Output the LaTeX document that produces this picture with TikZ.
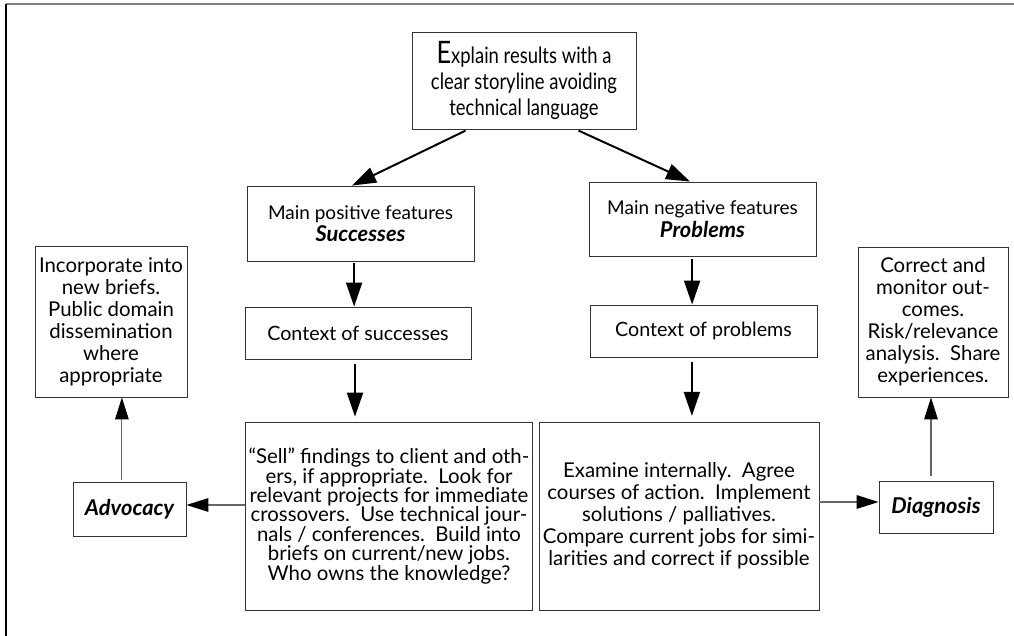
\documentclass[tikz,border=0pt]{standalone}
\usepackage{fontspec}
\setmainfont{Lato}
\newfontfamily\narrowfont[FakeStretch=0.82]{Lato}
\usetikzlibrary{arrows.meta}
\definecolor{boxline}{HTML}{333333}
\definecolor{sidearrow}{HTML}{666666}
\newcommand{\bfit}[1]{{\fontsize{15.5}{15.6}\selectfont\bfseries\itshape #1}}

\begin{document}
\begin{tikzpicture}[x=0.025cm,y=-0.025cm]
  \tikzstyle{bx}=[draw=boxline,line width=0.6pt,align=center,inner sep=2pt,font=\fontsize{13.5}{16}\selectfont]
  \tikzstyle{big}=[-{Triangle[length=6mm,width=4mm]},line width=1.4pt]
  \tikzstyle{side}=[-{Triangle[length=5.5mm,width=3.4mm,color=black]},sidearrow,line width=0.8pt]

  \useasboundingbox (0,0) rectangle (1014,636);
  \draw[line width=1pt,gray] (6,4) -- (1014,4);
  \draw[line width=1pt] (6,4) -- (6,636);

  \node[bx,minimum width=5.6cm,minimum height=2.425cm,font=\narrowfont\fontsize{16}{18.5}\selectfont] (top) at (524,80.5)
    {{\fontsize{22}{18.5}\selectfont E}xplain results with a\\clear storyline avoiding\\technical language};
  \node[bx,minimum width=5.675cm,minimum height=1.875cm] (pos) at (360.5,223.5)
    {Main positive features\\\bfit{Successes}};
  \node[bx,minimum width=5.675cm,minimum height=1.85cm] (neg) at (702.5,219)
    {Main negative features\\\bfit{Problems}};
  \node[bx,minimum width=5.65cm,minimum height=1.3cm,font=\fontsize{14}{15.6}\selectfont] (ctxs) at (358,333) {Context of successes};
  \node[bx,minimum width=5.675cm,minimum height=1.3cm,font=\fontsize{14}{15.6}\selectfont] (ctxp) at (703.5,331) {Context of problems};
  \node[bx,minimum width=7cm,minimum height=4.7cm,font=\fontsize{14.5}{13.8}\selectfont] (sell) at (389,516)
    {“Sell” findings to client and oth-\\ers, if appropriate.\ \ Look for\\relevant projects for immediate\\crossovers.\ \ Use technical jour-\\nals / conferences.\ \ Build into\\briefs on current/new jobs.\\Who owns the knowledge?};
  \node[bx,minimum width=7cm,minimum height=4.7cm,font=\fontsize{14.5}{15.6}\selectfont] (exam) at (679,516)
    {Examine internally.\ \ Agree\\courses of action.\ \ Implement\\solutions / palliatives.\\Compare current jobs for simi-\\larities and correct if possible};
  \node[bx,minimum width=2.825cm,minimum height=1.35cm] (adv) at (129.5,509) {\bfit{Advocacy}};
  \node[bx,minimum width=3.8cm,minimum height=3.775cm,font=\fontsize{14.5}{15.6}\selectfont] (inc) at (111,321.5)
    {Incorporate into\\new briefs.\\Public domain\\dissemination\\where\\appropriate};
  \node[bx,minimum width=2.85cm,minimum height=1.3cm] (diag) at (936,507) {\bfit{Diagnosis}};
  \node[bx,minimum width=3.75cm,minimum height=3.75cm,font=\fontsize{14.5}{15.6}\selectfont] (corr) at (933,322)
    {Correct and\\monitor out-\\comes.\\Risk/relevance\\analysis.\ \ Share\\experiences.};

  \draw[big,shorten <=2pt] ([xshift=-1.4cm]top.south) -- ([xshift=-.21cm]pos.north);
  \draw[big,shorten <=2pt] ([xshift=1.3cm]top.south) -- ([xshift=-.31cm]neg.north);
  \draw[big,shorten <=1pt] ([xshift=-.16cm]pos.south) -- ([xshift=-.16cm]pos.south |- ctxs.north);
  \draw[big,shorten <=3pt,shorten >=3.5pt] ([xshift=-.075cm]ctxs.south) -- ([xshift=-.075cm]ctxs.south |- sell.north);
  \draw[big,shorten <=2pt] ([xshift=-.26cm]neg.south) -- ([xshift=-.26cm]neg.south |- ctxp.north);
  \draw[big,shorten <=3pt,shorten >=4pt] ([xshift=-.29cm]ctxp.south) -- ([xshift=-.29cm]ctxp.south |- exam.north);
  \draw[side] ([yshift=.275cm]sell.west) -- ([yshift=.275cm]sell.west -| adv.east);
  \draw[side,shorten <=1pt] ([xshift=-.19cm]adv.north) -- ([xshift=-.19cm]adv.north |- inc.south);
  \draw[side] ([yshift=.35cm]exam.east) -- ([yshift=.35cm]exam.east -| diag.west);
  \draw[side,shorten <=3pt] ([xshift=-.125cm]diag.north) -- ([xshift=-.125cm]diag.north |- corr.south);
\end{tikzpicture}
\end{document}
